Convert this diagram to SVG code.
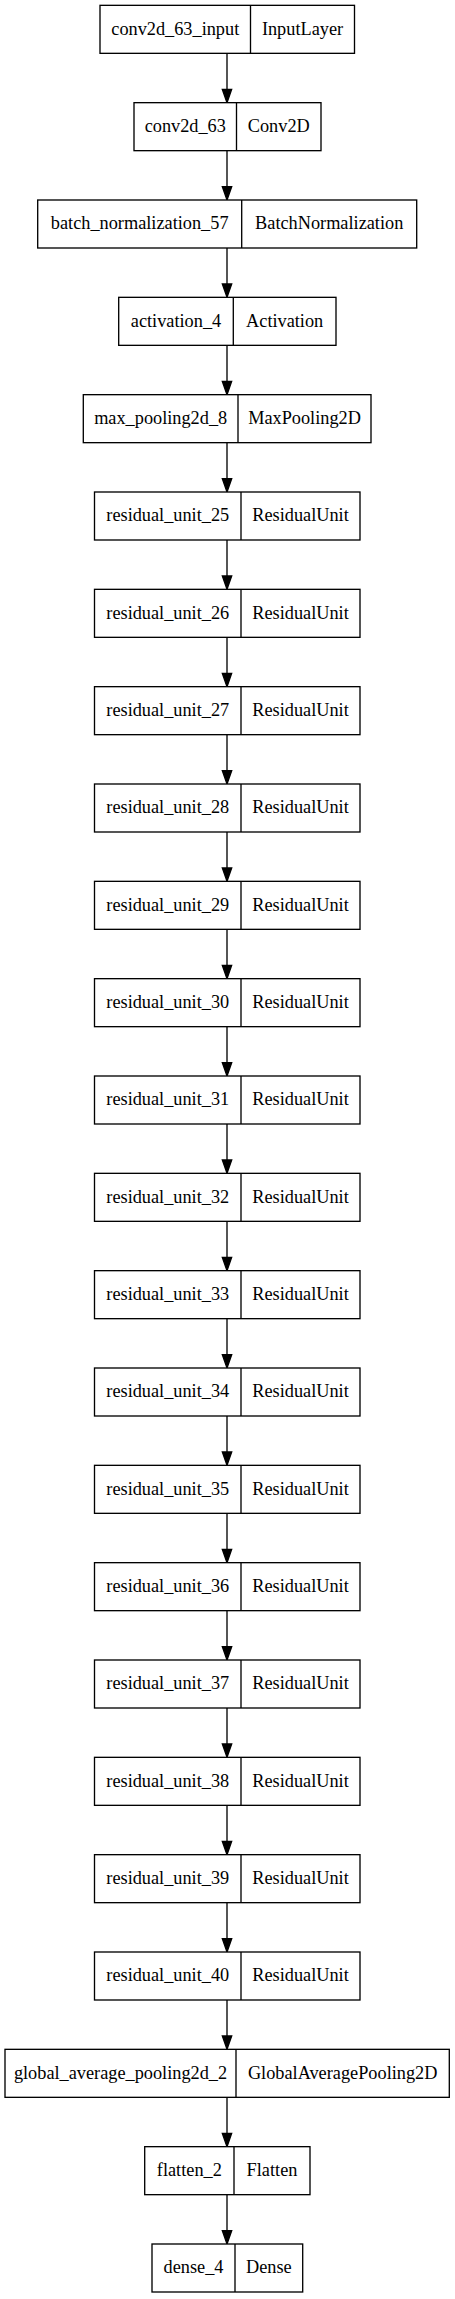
<svg xmlns="http://www.w3.org/2000/svg" width="455" height="2299" viewBox="0 0 455 2299">
<style>
rect.box{fill:#fff;stroke:#000;stroke-width:1.33}
line.div{stroke:#000;stroke-width:1.33}
text{font-family:"Liberation Serif","Times New Roman",serif;font-size:18.3px;fill:#000;text-anchor:middle}
#edges path{stroke:#000;stroke-width:1.33;fill:none;marker-end:url(#arr)}
</style>
<defs>
<marker id="arr" markerUnits="userSpaceOnUse" markerWidth="14" markerHeight="10" refX="0" refY="0" orient="auto" overflow="visible">
<path d="M0,-4.67 L13.33,0 L0,4.67 z" fill="#000" stroke="#000" stroke-width="1.33"/>
</marker>
</defs>
<rect width="455" height="2299" fill="#fff"/>
<g id="edges">
<path d="M227,53.33V89.33"/>
<path d="M227,150.67V186.67"/>
<path d="M227,248V284"/>
<path d="M227,345.33V381.33"/>
<path d="M227,442.67V478.67"/>
<path d="M227,540V576"/>
<path d="M227,637.33V673.33"/>
<path d="M227,734.67V770.67"/>
<path d="M227,832V868"/>
<path d="M227,929.33V965.33"/>
<path d="M227,1026.67V1062.67"/>
<path d="M227,1124V1160"/>
<path d="M227,1221.33V1257.33"/>
<path d="M227,1318.67V1354.67"/>
<path d="M227,1416V1452"/>
<path d="M227,1513.33V1549.33"/>
<path d="M227,1610.67V1646.67"/>
<path d="M227,1708V1744"/>
<path d="M227,1805.33V1841.33"/>
<path d="M227,1902.67V1938.67"/>
<path d="M227,2000V2036"/>
<path d="M227,2097.33V2133.33"/>
<path d="M227,2194.67V2230.67"/>
</g>
<g id="n0" transform="translate(0,5.33)"><rect class="box" x="100" y="0" width="254.5" height="48"/><line class="div" x1="250.5" y1="0" x2="250.5" y2="48"/><text x="175.25" y="29.4">conv2d_63_input</text><text x="302.5" y="29.4">InputLayer</text></g>
<g id="n1" transform="translate(0,102.67)"><rect class="box" x="134" y="0" width="187" height="48"/><line class="div" x1="236.5" y1="0" x2="236.5" y2="48"/><text x="185.25" y="29.4">conv2d_63</text><text x="278.75" y="29.4">Conv2D</text></g>
<g id="n2" transform="translate(0,200)"><rect class="box" x="37.7" y="0" width="379" height="48"/><line class="div" x1="241.7" y1="0" x2="241.7" y2="48"/><text x="139.7" y="29.4">batch_normalization_57</text><text x="329.2" y="29.4">BatchNormalization</text></g>
<g id="n3" transform="translate(0,297.33)"><rect class="box" x="118.7" y="0" width="217.3" height="48"/><line class="div" x1="233.3" y1="0" x2="233.3" y2="48"/><text x="176" y="29.4">activation_4</text><text x="284.65" y="29.4">Activation</text></g>
<g id="n4" transform="translate(0,394.67)"><rect class="box" x="83.3" y="0" width="287.7" height="48"/><line class="div" x1="238" y1="0" x2="238" y2="48"/><text x="160.65" y="29.4">max_pooling2d_8</text><text x="304.5" y="29.4">MaxPooling2D</text></g>
<g id="n5" transform="translate(0,492)"><rect class="box" x="94.5" y="0" width="265.5" height="48"/><line class="div" x1="241" y1="0" x2="241" y2="48"/><text x="167.75" y="29.4">residual_unit_25</text><text x="300.5" y="29.4">ResidualUnit</text></g>
<g id="n6" transform="translate(0,589.33)"><rect class="box" x="94.5" y="0" width="265.5" height="48"/><line class="div" x1="241" y1="0" x2="241" y2="48"/><text x="167.75" y="29.4">residual_unit_26</text><text x="300.5" y="29.4">ResidualUnit</text></g>
<g id="n7" transform="translate(0,686.67)"><rect class="box" x="94.5" y="0" width="265.5" height="48"/><line class="div" x1="241" y1="0" x2="241" y2="48"/><text x="167.75" y="29.4">residual_unit_27</text><text x="300.5" y="29.4">ResidualUnit</text></g>
<g id="n8" transform="translate(0,784)"><rect class="box" x="94.5" y="0" width="265.5" height="48"/><line class="div" x1="241" y1="0" x2="241" y2="48"/><text x="167.75" y="29.4">residual_unit_28</text><text x="300.5" y="29.4">ResidualUnit</text></g>
<g id="n9" transform="translate(0,881.33)"><rect class="box" x="94.5" y="0" width="265.5" height="48"/><line class="div" x1="241" y1="0" x2="241" y2="48"/><text x="167.75" y="29.4">residual_unit_29</text><text x="300.5" y="29.4">ResidualUnit</text></g>
<g id="n10" transform="translate(0,978.67)"><rect class="box" x="94.5" y="0" width="265.5" height="48"/><line class="div" x1="241" y1="0" x2="241" y2="48"/><text x="167.75" y="29.4">residual_unit_30</text><text x="300.5" y="29.4">ResidualUnit</text></g>
<g id="n11" transform="translate(0,1076)"><rect class="box" x="94.5" y="0" width="265.5" height="48"/><line class="div" x1="241" y1="0" x2="241" y2="48"/><text x="167.75" y="29.4">residual_unit_31</text><text x="300.5" y="29.4">ResidualUnit</text></g>
<g id="n12" transform="translate(0,1173.33)"><rect class="box" x="94.5" y="0" width="265.5" height="48"/><line class="div" x1="241" y1="0" x2="241" y2="48"/><text x="167.75" y="29.4">residual_unit_32</text><text x="300.5" y="29.4">ResidualUnit</text></g>
<g id="n13" transform="translate(0,1270.67)"><rect class="box" x="94.5" y="0" width="265.5" height="48"/><line class="div" x1="241" y1="0" x2="241" y2="48"/><text x="167.75" y="29.4">residual_unit_33</text><text x="300.5" y="29.4">ResidualUnit</text></g>
<g id="n14" transform="translate(0,1368)"><rect class="box" x="94.5" y="0" width="265.5" height="48"/><line class="div" x1="241" y1="0" x2="241" y2="48"/><text x="167.75" y="29.4">residual_unit_34</text><text x="300.5" y="29.4">ResidualUnit</text></g>
<g id="n15" transform="translate(0,1465.33)"><rect class="box" x="94.5" y="0" width="265.5" height="48"/><line class="div" x1="241" y1="0" x2="241" y2="48"/><text x="167.75" y="29.4">residual_unit_35</text><text x="300.5" y="29.4">ResidualUnit</text></g>
<g id="n16" transform="translate(0,1562.67)"><rect class="box" x="94.5" y="0" width="265.5" height="48"/><line class="div" x1="241" y1="0" x2="241" y2="48"/><text x="167.75" y="29.4">residual_unit_36</text><text x="300.5" y="29.4">ResidualUnit</text></g>
<g id="n17" transform="translate(0,1660)"><rect class="box" x="94.5" y="0" width="265.5" height="48"/><line class="div" x1="241" y1="0" x2="241" y2="48"/><text x="167.75" y="29.4">residual_unit_37</text><text x="300.5" y="29.4">ResidualUnit</text></g>
<g id="n18" transform="translate(0,1757.33)"><rect class="box" x="94.5" y="0" width="265.5" height="48"/><line class="div" x1="241" y1="0" x2="241" y2="48"/><text x="167.75" y="29.4">residual_unit_38</text><text x="300.5" y="29.4">ResidualUnit</text></g>
<g id="n19" transform="translate(0,1854.67)"><rect class="box" x="94.5" y="0" width="265.5" height="48"/><line class="div" x1="241" y1="0" x2="241" y2="48"/><text x="167.75" y="29.4">residual_unit_39</text><text x="300.5" y="29.4">ResidualUnit</text></g>
<g id="n20" transform="translate(0,1952)"><rect class="box" x="94.5" y="0" width="265.5" height="48"/><line class="div" x1="241" y1="0" x2="241" y2="48"/><text x="167.75" y="29.4">residual_unit_40</text><text x="300.5" y="29.4">ResidualUnit</text></g>
<g id="n21" transform="translate(0,2049.33)"><rect class="box" x="5" y="0" width="444.3" height="48"/><line class="div" x1="236" y1="0" x2="236" y2="48"/><text x="120.5" y="29.4">global_average_pooling2d_2</text><text x="342.65" y="29.4">GlobalAveragePooling2D</text></g>
<g id="n22" transform="translate(0,2146.67)"><rect class="box" x="144.7" y="0" width="165.3" height="48"/><line class="div" x1="234" y1="0" x2="234" y2="48"/><text x="189.35" y="29.4">flatten_2</text><text x="272" y="29.4">Flatten</text></g>
<g id="n23" transform="translate(0,2244)"><rect class="box" x="152" y="0" width="150.7" height="48"/><line class="div" x1="235" y1="0" x2="235" y2="48"/><text x="193.5" y="29.4">dense_4</text><text x="268.85" y="29.4">Dense</text></g>
</svg>
